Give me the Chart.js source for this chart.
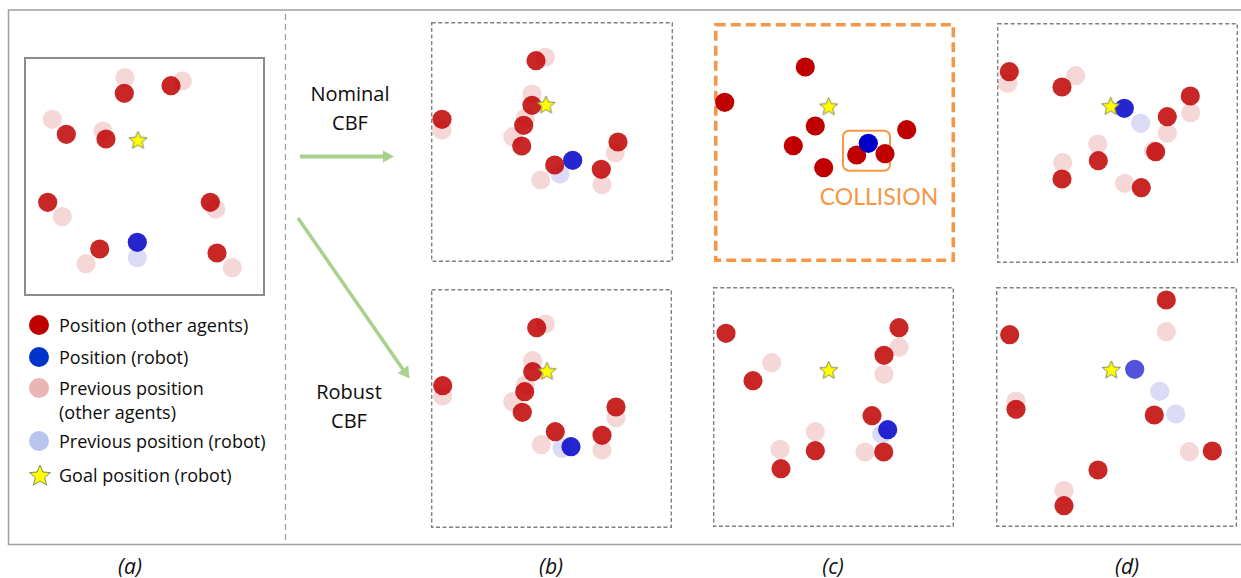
<!DOCTYPE html>
<html><head><meta charset="utf-8">
<script src="https://cdn.jsdelivr.net/npm/chart.js@4"></script>
<style>
html,body{margin:0;padding:0;background:#fff;}
#root{position:relative;width:1241px;height:578px;overflow:hidden;font-family:"Open Sans",Lato,sans-serif;color:#0d0d0d;}
.panel{position:absolute;}
.ctr{position:absolute;transform:translate(-50%,-50%);white-space:nowrap;text-align:center;}
.side{font-size:20px;line-height:29px;}
.cap{font-size:21px;font-style:italic;}
.lg{position:absolute;left:59px;font-size:18px;line-height:24px;white-space:nowrap;transform:translateY(-50%);}
.dot{position:absolute;width:20px;height:20px;border-radius:50%;transform:translate(-50%,-50%);}
#collision{color:#f79646;font-size:23px;font-family:Lato,"Open Sans",sans-serif;}
</style></head><body><div id="root">
<svg width="1241" height="578" style="position:absolute;left:0;top:0">
  <path d="M1241 10 H8.5 V544.5 H1241" stroke="#a0a0a0" stroke-width="1.5" fill="none"/>
  <line x1="285.5" y1="14" x2="285.5" y2="541" stroke="#a0a0a0" stroke-width="1.3" stroke-dasharray="6 4"/>
  <line x1="300" y1="156.5" x2="384" y2="156.5" stroke="#a9d18e" stroke-width="4"/>
  <polygon points="383,150.5 394,156.5 383,162.5" fill="#a9d18e"/>
  <line x1="298" y1="218" x2="403" y2="369.5" stroke="#a9d18e" stroke-width="3.5"/>
  <polygon points="397.6,373 409.5,378.5 408.2,365.6" fill="#a9d18e"/>
</svg>

<div class="ctr side" style="left:350px;top:108px">Nominal<br>CBF</div>
<div class="ctr side" style="left:349px;top:406px">Robust<br>CBF</div>

<div class="ctr cap" style="left:130px;top:566px">(a)</div>
<div class="ctr cap" style="left:551px;top:566px">(b)</div>
<div class="ctr cap" style="left:833px;top:566px">(c)</div>
<div class="ctr cap" style="left:1127px;top:566px">(d)</div>

<div class="dot" style="left:39px;top:325px;background:#c00000"></div>
<div class="lg" style="top:325px">Position (other agents)</div>
<div class="dot" style="left:39px;top:357px;background:#0033cc"></div>
<div class="lg" style="top:357px">Position (robot)</div>
<div class="dot" style="left:39px;top:388px;background:#ebb5b5"></div>
<div class="lg" style="top:400px">Previous position<br>(other agents)</div>
<div class="dot" style="left:39px;top:441px;background:#b8c6ef"></div>
<div class="lg" style="top:441px">Previous position (robot)</div>
<canvas id="legendStar" width="26" height="26" style="position:absolute;left:27px;top:462px"></canvas>
<div class="lg" style="top:475px">Goal position (robot)</div>

<div id="collision" class="ctr" style="left:879px;top:196px">COLLISION</div>
</div>
<script>
// ---- data (panel-local units; origin = top-left of each panel frame) ----
const A_agents     = [[100.3,36.3],[147,28.7],[42.3,77.3],[82,82],[23.7,145.3],[186.3,145.3],[75.7,192],[193,196]];
const A_agentsPrev = [[101,20.7],[158.3,24],[28.3,62.3],[79,74],[38.3,159.7],[191.7,152],[62,206.7],[208.3,210.7]];
const A_robot      = [[113.3,185.3]];
const A_robotPrev  = [[113.3,200.7]];
const A_goal       = [[114,82.7]];

const B1_agents     = [[105,38.7],[101,83.3],[11,97.3],[92.7,103.3],[90.7,124],[123.7,143],[187,120],[170.3,147.3]];
const B1_agentsPrev = [[114.3,35.3],[101,72],[94.3,96],[11,108],[81.7,114.7],[109.7,158],[184.3,130.7],[171,162.7]];
const B1_robot      = [[141.7,138.3]];
const B1_robotPrev  = [[129,152]];
const B1_goal       = [[115,82.3]];

const B2_agents     = [[105.7,38.7],[101.7,82.7],[11.7,96.7],[93.7,102.7],[91.3,123.3],[124.3,142.7],[185,118],[171,146.3]];
const B2_agentsPrev = [[114.3,35],[101.7,71.7],[94.3,96],[11.7,107],[81.7,112.7],[110.3,155.7],[185,128.7],[171,161]];
const B2_robot      = [[140,157.7]];
const B2_robotPrev  = [[131,159.3]];
const B2_goal       = [[116,81.7]];

const C1_agents     = [[91.3,44],[10.7,79.3],[101.3,103],[79.3,122.7],[109.7,144.7],[192.7,106.7],[142.7,132],[171,130.7]];
const C1_agentsPrev = [];
const C1_robot      = [[154.3,120.3]];
const C1_robotPrev  = [];
const C1_goal       = [[114.7,83]];

const C2_agents     = [[13,46.3],[40,93.7],[186,40.7],[171,68.3],[159,128.7],[102.3,163.7],[68,181.7],[170.7,165]];
const C2_agentsPrev = [[58.7,75.7],[186,60.3],[171,87.3],[102.3,144.7],[67,162.3],[152,165]];
const C2_robot      = [[174.7,142.7]];
const C2_robotPrev  = [[168.7,147.3]];
const C2_goal       = [[115.7,82.7]];

const D1_agents     = [[12.3,48.7],[65,64],[193.3,73],[170.3,93.7],[158.7,128.7],[101.3,137.7],[65,156],[144.3,164.7]];
const D1_agentsPrev = [[10.7,60.3],[78.7,52.7],[193.7,89.7],[170.3,110.3],[100.7,121],[65.7,139.7],[127.7,160.3],[156.3,127.7]];
const D1_robot      = [[127.3,85.3]];
const D1_robotPrev  = [[143.7,100.3]];
const D1_goal       = [[113.7,82.7]];

const D2_agents     = [[170.3,13],[13.7,47.7],[20,122.3],[158.3,128],[216.3,164],[102,183],[68,218.7]];
const D2_agentsPrev = [[170.3,44.7],[20,114],[193.3,164.7],[68,203.7]];
const D2_robot      = [[138.7,82.3]];
const D2_robotPrev  = [[163.7,104.3],[179.7,127]];
const D2_goal       = [[115.3,82.3]];

// ---- styling / layout ----
function makeStar(r){
  const s = Math.ceil(r*2+4);
  const c = document.createElement('canvas'); c.width = s; c.height = s;
  const ctx = c.getContext('2d');
  ctx.beginPath();
  for(let i=0;i<10;i++){
    const rr = i%2===0 ? r : r*0.45;
    const a = -Math.PI/2 + i*Math.PI/5;
    const x = s/2 + rr*Math.cos(a), y = s/2 + 1 + rr*Math.sin(a);
    if(i===0) ctx.moveTo(x,y); else ctx.lineTo(x,y);
  }
  ctx.closePath();
  ctx.fillStyle = '#ffff00'; ctx.fill();
  ctx.strokeStyle = '#7a7a5a'; ctx.lineWidth = 0.9; ctx.stroke();
  return c;
}
const starImg = makeStar(9.5);
document.getElementById('legendStar').getContext('2d').drawImage(makeStar(11),0,0);

const toXY = arr => arr.map(p => ({x:p[0], y:p[1]}));

const panels = [
  {left:24,  top:57,  w:241, h:239, frame:'solid',  d:[A_agents,A_agentsPrev,A_robot,A_robotPrev,A_goal]},
  {left:431, top:22,  w:242, h:240, frame:'dash',   d:[B1_agents,B1_agentsPrev,B1_robot,B1_robotPrev,B1_goal]},
  {left:431, top:289, w:241, h:239, frame:'dash',   d:[B2_agents,B2_agentsPrev,B2_robot,B2_robotPrev,B2_goal]},
  {left:714, top:23,  w:241, h:239, frame:'orange', d:[C1_agents,C1_agentsPrev,C1_robot,C1_robotPrev,C1_goal], collision:[129,107.7,176,147.7], agentAlpha:1, robotAlpha:1},
  {left:713, top:287, w:241, h:240, frame:'dash',   d:[C2_agents,C2_agentsPrev,C2_robot,C2_robotPrev,C2_goal]},
  {left:997, top:23,  w:241, h:240, frame:'dash',   d:[D1_agents,D1_agentsPrev,D1_robot,D1_robotPrev,D1_goal]},
  {left:996, top:287, w:241, h:240, frame:'dash',   d:[D2_agents,D2_agentsPrev,D2_robot,D2_robotPrev,D2_goal], robotAlpha:0.68}
];

const framePlugin = {
  id:'frame',
  beforeDatasetsDraw(chart, args, opts){
    const {ctx, chartArea:a} = chart;
    ctx.save();
    if(opts.frame==='solid'){ ctx.strokeStyle='#8c8c8c'; ctx.lineWidth=2; ctx.setLineDash([]); }
    else if(opts.frame==='orange'){ ctx.strokeStyle='#f79646'; ctx.lineWidth=3.5; ctx.setLineDash([10,5]); }
    else { ctx.strokeStyle='#808080'; ctx.lineWidth=1.4; ctx.setLineDash([4,2.5]); }
    const lw = ctx.lineWidth/2;
    ctx.strokeRect(a.left+lw, a.top+lw, a.right-a.left-2*lw, a.bottom-a.top-2*lw);
    if(opts.collision){
      const xs = chart.scales.x, ys = chart.scales.y, c = opts.collision;
      const x0 = xs.getPixelForValue(c[0]), y0 = ys.getPixelForValue(c[1]);
      const x1 = xs.getPixelForValue(c[2]), y1 = ys.getPixelForValue(c[3]);
      ctx.setLineDash([]); ctx.lineWidth = 2; ctx.strokeStyle = '#f79646';
      ctx.beginPath(); ctx.roundRect(x0, y0, x1-x0, y1-y0, 6); ctx.stroke();
    }
    ctx.restore();
  }
};

panels.forEach(p => {
  const cv = document.createElement('canvas');
  cv.width = p.w; cv.height = p.h;
  cv.className = 'panel';
  cv.style.left = p.left+'px'; cv.style.top = p.top+'px';
  cv.style.width = p.w+'px'; cv.style.height = p.h+'px';
  document.getElementById('root').appendChild(cv);
  const aA = p.agentAlpha ?? 0.85, rA = p.robotAlpha ?? 0.85;
  const [agents, agentsPrev, robot, robotPrev, goal] = p.d;
  const base = {pointRadius:9.6, pointBorderWidth:0, pointHoverRadius:9.6, clip:false};
  new Chart(cv, {
    type:'scatter',
    data:{datasets:[
      Object.assign({label:'Goal position (robot)', data:toXY(goal), pointStyle:starImg, order:0}, base, {pointRadius:9}),
      Object.assign({label:'Position (robot)', data:toXY(robot), backgroundColor:`rgba(0,0,200,${rA})`, order:1}, base),
      Object.assign({label:'Position (other agents)', data:toXY(agents), backgroundColor:`rgba(192,0,0,${aA})`, order:2}, base),
      Object.assign({label:'Previous position (robot)', data:toXY(robotPrev), backgroundColor:'rgba(40,40,210,0.17)', order:3}, base),
      Object.assign({label:'Previous position (other agents)', data:toXY(agentsPrev), backgroundColor:'rgba(200,20,20,0.17)', order:4}, base)
    ]},
    options:{
      responsive:false, animation:false, events:[],
      layout:{padding:0, autoPadding:false},
      scales:{
        x:{type:'linear', min:0, max:p.w, display:false},
        y:{type:'linear', min:0, max:p.h, reverse:true, display:false}
      },
      plugins:{legend:{display:false}, tooltip:{enabled:false}, frame:{frame:p.frame, collision:p.collision}}
    },
    plugins:[framePlugin]
  });
});
</script>
</body></html>
